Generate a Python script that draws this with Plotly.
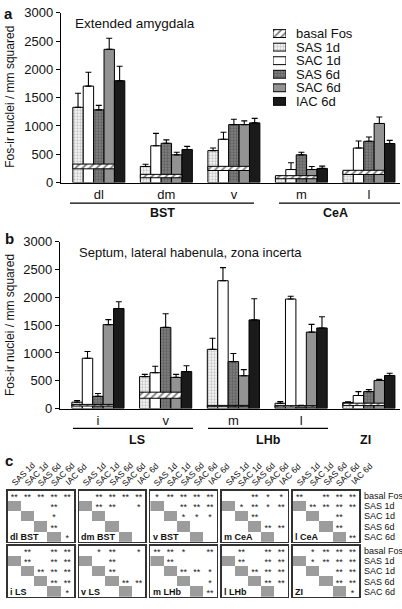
import plotly.graph_objects as go

W, H = 402, 609
def px(x): return x / W
def py(y): return 1 - y / H

FONT = "Liberation Sans, Arial, sans-serif"

# ---------------- data ----------------
series = ["SAS 1d", "SAC 1d", "SAS 6d", "SAC 6d", "IAC 6d"]

a_regions = ["dl", "dm", "v", "m", "l"]
a_vals = {
    "SAS 1d": [1330, 285, 565, 95, 200],
    "SAC 1d": [1705, 650, 765, 230, 610],
    "SAS 6d": [1285, 695, 1025, 490, 730],
    "SAC 6d": [2355, 490, 1025, 230, 1045],
    "IAC 6d": [1800, 585, 1055, 250, 690],
}
a_errtop = {
    "SAS 1d": [1580, 325, 610, 110, 210],
    "SAC 1d": [1950, 870, 890, 350, 735],
    "SAS 6d": [1365, 755, 1120, 535, 805],
    "SAC 6d": [2550, 535, 1090, 285, 1160],
    "IAC 6d": [2055, 640, 1135, 290, 745],
}
a_basal = [285, 115, 250, 95, 180]
a_basal_sem = [42, 30, 37, 27, 37]

b_regions = ["i", "v", "m", "l", "ZI"]
b_ticktext = ["i", "v", "m", "l", ""]
b_vals = {
    "SAS 1d": [115, 575, 1065, 95, 110],
    "SAC 1d": [905, 645, 2300, 1970, 235],
    "SAS 6d": [220, 1460, 845, 45, 305],
    "SAC 6d": [1510, 560, 590, 1375, 505],
    "IAC 6d": [1800, 665, 1595, 1450, 595],
}
b_errtop = {
    "SAS 1d": [145, 615, 1265, 125, 120],
    "SAC 1d": [1025, 760, 2535, 2020, 305],
    "SAS 6d": [270, 1705, 990, 60, 340],
    "SAC 6d": [1600, 615, 700, 1515, 525],
    "IAC 6d": [1920, 770, 1975, 1650, 635],
}
b_basal = [60, 240, 45, 40, 75]
b_basal_sem = [15, 55, 12, 12, 22]

legend_names = ["basal Fos", "SAS 1d", "SAC 1d", "SAS 6d", "SAC 6d", "IAC 6d"]
yticks = [0, 500, 1000, 1500, 2000, 2500, 3000]

# panel c: significance matrices (rows: basal Fos, SAS 1d, SAC 1d, SAS 6d, SAC 6d;
# columns: SAS 1d, SAC 1d, SAS 6d, SAC 6d, IAC 6d)
c_rows = ["basal Fos", "SAS 1d", "SAC 1d", "SAS 6d", "SAC 6d"]
c_cols = ["SAS 1d", "SAC 1d", "SAS 6d", "SAC 6d", "IAC 6d"]
c_names = ["dl BST", "dm BST", "v BST", "m CeA", "l CeA",
           "i LS", "v LS", "m LHb", "l LHb", "ZI"]
sig_dl_BST = [["**", "**", "**", "**", "**"],
              ["", "", "", "**", ""],
              ["", "", "", "*", ""],
              ["", "", "", "**", ""],
              ["", "", "", "", "*"]]
sig_dm_BST = [["", "**", "**", "**", "**"],
              ["", "**", "**", "", "*"],
              ["", "", "", "", ""],
              ["", "", "", "", ""],
              ["", "", "", "", ""]]
sig_v_BST = [["*", "**", "**", "**", "**"],
             ["", "", "**", "**", "**"],
             ["", "", "*", "*", "*"],
             ["", "", "", "", ""],
             ["", "", "", "", ""]]
sig_m_CeA = [["", "", "**", "*", "*"],
             ["", "*", "**", "*", "**"],
             ["", "", "**", "", ""],
             ["", "", "", "**", "**"],
             ["", "", "", "", ""]]
sig_l_CeA = [["**", "", "**", "**", "**"],
             ["", "**", "**", "**", "**"],
             ["", "", "", "**", ""],
             ["", "", "", "**", ""],
             ["", "", "", "", "**"]]
sig_i_LS = [["", "**", "", "**", "**"],
            ["", "**", "", "**", "**"],
            ["", "", "**", "**", "**"],
            ["", "", "", "**", "**"],
            ["", "", "", "", "*"]]
sig_v_LS = [["", "*", "**", "", "*"],
            ["", "", "**", "", ""],
            ["", "", "**", "", ""],
            ["", "", "", "**", "**"],
            ["", "", "", "", ""]]
sig_m_LHb = [["**", "**", "*", "", "**"],
             ["", "**", "", "", ""],
             ["", "", "**", "**", "*"],
             ["", "", "", "", "*"],
             ["", "", "", "", "**"]]
sig_l_LHb = [["", "**", "", "**", "**"],
             ["", "**", "", "**", "**"],
             ["", "", "**", "**", "**"],
             ["", "", "", "**", "**"],
             ["", "", "", "", ""]]
sig_ZI = [["", "*", "**", "**", "**"],
          ["", "*", "**", "**", "**"],
          ["", "", "", "**", "**"],
          ["", "", "", "**", "**"],
          ["", "", "", "", "*"]]
c_sigs = [sig_dl_BST, sig_dm_BST, sig_v_BST, sig_m_CeA, sig_l_CeA,
          sig_i_LS, sig_v_LS, sig_m_LHb, sig_l_LHb, sig_ZI]

# ---------------- styles ----------------
def marker_for(name):
    line = dict(color="black", width=1)
    if name == "basal Fos":
        return dict(color="white", line=line,
                    pattern=dict(shape="/", fgcolor="black", bgcolor="white",
                                 size=5, solidity=0.35, fillmode="overlay"))
    if name == "SAS 1d":
        return dict(color="white", line=line,
                    pattern=dict(shape=".", fgcolor="#8a8a8a", bgcolor="white",
                                 size=3, solidity=0.5, fillmode="overlay"))
    if name == "SAC 1d":
        return dict(color="white", line=line)
    if name == "SAS 6d":
        return dict(color="#848484", line=line,
                    pattern=dict(shape=".", fgcolor="#3c3c3c", bgcolor="#848484",
                                 size=3, solidity=0.5, fillmode="overlay"))
    if name == "SAC 6d":
        return dict(color="#939393", line=line)
    return dict(color="#1a1a1a", line=line)

fig = go.Figure()
BW = 0.154
xs = [0, 1, 2, 3, 4]

def add_panel(vals, errtop, basal, sem, xa, ya):
    for i, s in enumerate(series):
        fig.add_trace(go.Bar(
            x=xs, y=vals[s], xaxis=xa, yaxis=ya,
            offset=-2.5 * BW + i * BW, width=BW,
            marker=marker_for(s),
            error_y=dict(type="data", symmetric=False,
                         array=[e - v for e, v in zip(errtop[s], vals[s])],
                         arrayminus=[0] * len(vals[s]),
                         color="black", thickness=1.1, width=3),
            showlegend=False, hoverinfo="skip"))
    fig.add_trace(go.Bar(
        x=xs, y=[2 * e for e in sem], base=[b - e for b, e in zip(basal, sem)],
        xaxis=xa, yaxis=ya, offset=-2.5 * BW, width=4 * BW,
        marker=marker_for("basal Fos"), showlegend=False, hoverinfo="skip"))

add_panel(a_vals, a_errtop, a_basal, a_basal_sem, "x", "y")
add_panel(b_vals, b_errtop, b_basal, b_basal_sem, "x2", "y2")

# legend as swatches on its own small axis
for n in legend_names:
    fig.add_trace(go.Bar(orientation="h", x=[1], y=[n], xaxis="x3", yaxis="y3",
                         width=0.58, marker=marker_for(n),
                         showlegend=False, hoverinfo="skip"))

annotations = []
shapes = []
for n in legend_names:
    annotations.append(dict(text=n, x=px(294), xref="paper", y=n, yref="y3",
                            xanchor="left", yanchor="middle", showarrow=False,
                            font=dict(size=13, color="#111", family=FONT)))

# panel c boxes
box_left0, box_step, box_w = 7.7, 71.3, 66.3
row_tops = [496, 552.3]
box_h = 52.5
for k in range(10):
    n = 4 + k
    r, c = divmod(k, 5)
    xa, ya = f"x{n}", f"y{n}"
    z = [[None] * 5 for _ in range(5)]
    for rr in range(1, 5):
        z[rr][rr - 1] = 1
    fig.add_trace(go.Heatmap(z=z, x=xs, y=xs, xaxis=xa, yaxis=ya,
                             colorscale=[[0, "#9c9c9c"], [1, "#9c9c9c"]],
                             showscale=False, hoverinfo="skip"))
    sig = c_sigs[k]
    tx, ty, tt = [], [], []
    for rr in range(5):
        for cc in range(5):
            if sig[rr][cc]:
                tx.append(cc); ty.append(rr + 0.18); tt.append(sig[rr][cc])
    fig.add_trace(go.Scatter(x=tx, y=ty, text=tt, mode="text", xaxis=xa, yaxis=ya,
                             textfont=dict(size=9, color="#1a1a1a", family=FONT),
                             textposition="middle center",
                             showlegend=False, hoverinfo="skip"))
    annotations.append(dict(text=f"<b>{c_names[k]}</b>", x=-0.47, xref=xa, y=4,
                            yref=ya, xanchor="left", yanchor="middle",
                            showarrow=False,
                            font=dict(size=9, color="#111", family=FONT)))
    if r == 0:
        for cc, name in enumerate(c_cols):
            annotations.append(dict(text=name, x=cc, xref=xa, xshift=9,
                                    y=py(479), yref="paper", textangle=-45,
                                    xanchor="center", yanchor="middle",
                                    showarrow=False,
                                    font=dict(size=8.5, color="#111", family=FONT)))
    if c == 4:
        for rr, name in enumerate(c_rows):
            annotations.append(dict(text=name, x=px(362), xref="paper", y=rr,
                                    yref=ya, xanchor="left", yanchor="middle",
                                    showarrow=False,
                                    font=dict(size=9, color="#111", family=FONT)))

# text annotations for panels a and b
def ann(text, x, y, size, bold=False, angle=0, xanchor="left"):
    annotations.append(dict(text=f"<b>{text}</b>" if bold else text,
                            x=px(x), y=py(y), xref="paper", yref="paper",
                            xanchor=xanchor, yanchor="middle", showarrow=False,
                            textangle=angle,
                            font=dict(size=size, color="#111", family=FONT)))

ann("a", 2, 7, 15, bold=True)
ann("b", 3, 237, 15, bold=True)
ann("c", 3, 465, 15, bold=True)
ann("Extended amygdala", 73, 17, 13.5)
ann("Septum, lateral habenula, zona incerta", 77, 252, 13)
ann("Fos-ir nuclei / mm squared", 10, 92, 12, angle=-90, xanchor="center")
ann("Fos-ir nuclei / mm squared", 10, 326, 12, angle=-90, xanchor="center")
ann("BST", 162, 211, 12.5, bold=True, xanchor="center")
ann("CeA", 335, 211, 12.5, bold=True, xanchor="center")
ann("LS", 137, 444, 12.5, bold=True, xanchor="center")
ann("LHb", 268, 444, 12.5, bold=True, xanchor="center")
ann("ZI", 365, 444, 12.5, bold=True, xanchor="center")

def hline(x0, x1, y):
    shapes.append(dict(type="line", xref="paper", yref="paper",
                       x0=px(x0), x1=px(x1), y0=py(y), y1=py(y),
                       line=dict(color="black", width=1.2)))

hline(70, 254, 201)
hline(279, 400, 201)
hline(73, 193, 432)
hline(208, 328, 432)

common_y = dict(range=[0, 3000], tickvals=yticks, ticks="outside", ticklen=4,
                tickcolor="black", showline=True, linecolor="black", linewidth=1.2,
                showgrid=False, zeroline=False,
                tickfont=dict(size=13, color="#111", family=FONT))
common_x = dict(range=[-0.56, 4.46], tickvals=xs, ticks="", showline=True,
                linecolor="black", linewidth=1.2, showgrid=False, zeroline=False,
                tickfont=dict(size=13, color="#111", family=FONT))

layout = dict(
    width=W, height=H, margin=dict(l=0, r=0, t=0, b=0),
    paper_bgcolor="white", plot_bgcolor="rgba(0,0,0,0)",
    barmode="overlay", showlegend=False,
    font=dict(family=FONT),
    xaxis=dict(domain=[px(61), px(400)], anchor="y", ticktext=a_regions, **common_x),
    yaxis=dict(domain=[py(180), py(6)], anchor="x", **common_y),
    xaxis2=dict(domain=[px(60), px(400)], anchor="y2", ticktext=b_ticktext, **common_x),
    yaxis2=dict(domain=[py(411.7), py(240.7)], anchor="x2", **common_y),
    xaxis3=dict(domain=[px(273), px(286)], anchor="y3", range=[0, 1], visible=False),
    yaxis3=dict(domain=[py(106.5), py(17.5)], anchor="x3", type="category",
                categoryorder="array", categoryarray=legend_names,
                autorange="reversed", visible=False),
    annotations=annotations, shapes=shapes,
)
for k in range(10):
    n = 4 + k
    r, c = divmod(k, 5)
    x0 = box_left0 + c * box_step
    top = row_tops[r]
    ax = dict(showline=True, mirror=True, linecolor="#333", linewidth=1.5,
              showgrid=False, zeroline=False, showticklabels=False, ticks="")
    layout[f"xaxis{n}"] = dict(domain=[px(x0), px(x0 + box_w)], anchor=f"y{n}",
                               range=[-0.5, 4.5], **ax)
    layout[f"yaxis{n}"] = dict(domain=[py(top + box_h), py(top)], anchor=f"x{n}",
                               range=[4.5, -0.5], **ax)

fig.update_layout(**layout)
fig.write_html("out.html",
               config={"displayModeBar": False, "staticPlot": True},
               post_script="document.body.style.margin='0';"
                           "document.body.style.overflow='hidden';"
                           "document.documentElement.style.overflow='hidden';")
